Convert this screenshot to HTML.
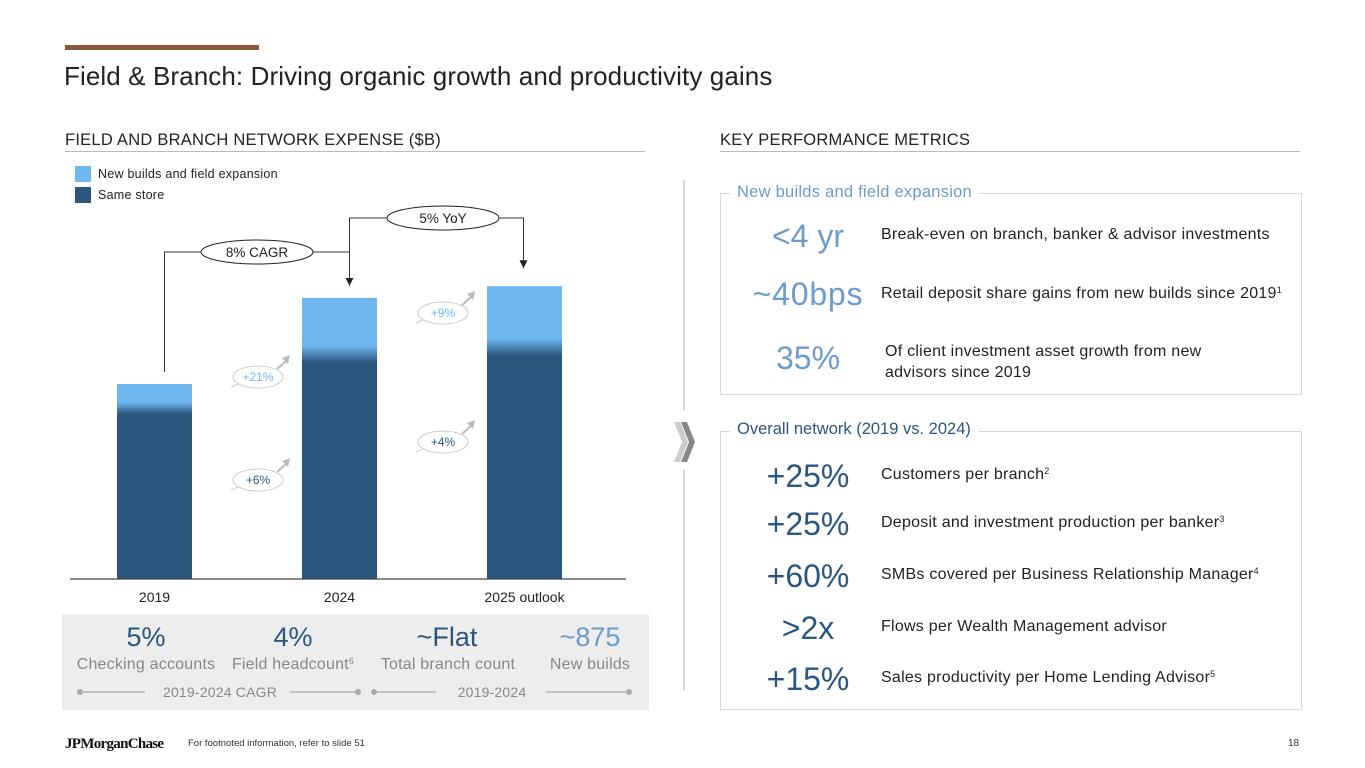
<!DOCTYPE html>
<html><head><meta charset="utf-8">
<style>
*{margin:0;padding:0;box-sizing:border-box}
body{width:1365px;height:768px;background:#fff;position:relative;overflow:hidden;font-family:"Liberation Sans",sans-serif;color:#222}
.a{position:absolute;white-space:nowrap}
.big{position:absolute;width:140px;text-align:center;font-size:32px;line-height:36px;left:738px}
.lt{color:#6b9ccb}.dk{color:#2b5680}
.desc{position:absolute;left:881px;font-size:16px;color:#222;letter-spacing:0.25px}
sup{font-size:9px;vertical-align:top;line-height:10px}
.box{position:absolute;border:1px solid #d8d8d8}
.leg{position:absolute;width:16px;height:16px}
.kl{position:absolute;text-align:center;font-size:16px;color:#888;letter-spacing:0.2px;white-space:nowrap}
</style></head><body>
<div class="a" style="left:65px;top:45px;width:194px;height:5px;background:#8b5a3c"></div>
<div class="a" style="left:64px;top:61px;font-size:26px;color:#222;letter-spacing:0.1px">Field &amp; Branch: Driving organic growth and productivity gains</div>
<div class="a" style="left:65px;top:131px;font-size:16.5px;color:#222;letter-spacing:0.25px">FIELD AND BRANCH NETWORK EXPENSE ($B)</div>
<div class="a" style="left:65px;top:151px;width:580px;height:1px;background:#bbb"></div>
<div class="a" style="left:720px;top:131px;font-size:16.5px;color:#222;letter-spacing:0.25px">KEY PERFORMANCE METRICS</div>
<div class="a" style="left:720px;top:151px;width:580px;height:1px;background:#bbb"></div>

<div class="leg" style="left:75px;top:166px;background:#6fb8ef"></div>
<div class="a" style="left:98px;top:167px;font-size:12.5px;letter-spacing:0.25px">New builds and field expansion</div>
<div class="leg" style="left:75px;top:187px;background:#2b567e"></div>
<div class="a" style="left:98px;top:188px;font-size:12.5px;letter-spacing:0.25px">Same store</div>

<svg class="a" style="left:0;top:0" width="660" height="610" id="chart">
<defs>
<marker id="ar" viewBox="0 0 10 10" refX="10" refY="5" markerWidth="8" markerHeight="8" markerUnits="userSpaceOnUse" orient="auto"><path d="M0,0L10,5L0,10z" fill="#222"/></marker>
</defs>
</svg>

<div class="a" style="left:62px;top:614px;width:587px;height:96px;background:#ededed"></div>
<div class="a" style="left:86px;top:622px;width:120px;text-align:center;font-size:27px;color:#2b5680">5%</div>
<div class="kl" style="left:66px;top:656px;width:160px">Checking accounts</div>
<div class="a" style="left:233px;top:622px;width:120px;text-align:center;font-size:27px;color:#2b5680">4%</div>
<div class="kl" style="left:218px;top:656px;width:150px">Field headcount<sup>6</sup></div>
<div class="a" style="left:387px;top:622px;width:120px;text-align:center;font-size:27px;color:#2b5680">~Flat</div>
<div class="kl" style="left:368px;top:656px;width:160px">Total branch count</div>
<div class="a" style="left:530px;top:622px;width:120px;text-align:center;font-size:27px;color:#6b9ccb">~875</div>
<div class="kl" style="left:530px;top:656px;width:120px">New builds</div>
<svg class="a" style="left:0;top:680px" width="660" height="30">
<g stroke="#aaa" stroke-width="1.2"><line x1="80" y1="12" x2="145" y2="12"/><line x1="290" y1="12" x2="358" y2="12"/><line x1="374" y1="12" x2="436" y2="12"/><line x1="546" y1="12" x2="629" y2="12"/></g>
<g fill="#aaa"><circle cx="80" cy="12" r="3"/><circle cx="358" cy="12" r="3"/><circle cx="374" cy="12" r="3"/><circle cx="629" cy="12" r="3"/></g>
<text x="220" y="17" text-anchor="middle" font-size="14" fill="#888" font-family="Liberation Sans" letter-spacing="0.2">2019-2024 CAGR</text>
<text x="492" y="17" text-anchor="middle" font-size="14" fill="#888" font-family="Liberation Sans" letter-spacing="0.2">2019-2024</text>
</svg>

<svg class="a" style="left:668px;top:180px" width="40" height="510">
<line x1="16" y1="0" x2="16" y2="230" stroke="#ccc" stroke-width="1.5"/>
<line x1="16" y1="290" x2="16" y2="510" stroke="#ccc" stroke-width="1.5"/>
<path d="M6,242 L12,242 L20,262 L12,282 L6,282 L14,262z" fill="#ccc"/>
<path d="M13,242 L19,242 L27,262 L19,282 L13,282 L21,262z" fill="#888"/>
</svg>

<div class="box" style="left:720px;top:193px;width:582px;height:202px"></div>
<div class="a" style="left:730px;top:183px;padding:0 7px;background:#fff;font-size:16.5px;color:#6b9ccb;letter-spacing:0.25px">New builds and field expansion</div>
<div class="big lt" style="top:218px">&lt;4 yr</div>
<div class="desc" style="top:226px">Break-even on branch, banker &amp; advisor investments</div>
<div class="big lt" style="top:276px;letter-spacing:0.8px">~40bps</div>
<div class="desc" style="top:285px">Retail deposit share gains from new builds since 2019<sup>1</sup></div>
<div class="big lt" style="top:340px">35%</div>
<div class="desc" style="top:341px;left:885px;line-height:21px">Of client investment asset growth from new<br>advisors since 2019</div>

<div class="box" style="left:720px;top:431px;width:582px;height:279px"></div>
<div class="a" style="left:730px;top:420px;padding:0 7px;background:#fff;font-size:16.5px;color:#2b5680">Overall network (2019 vs. 2024)</div>
<div class="big dk" style="top:458px">+25%</div>
<div class="desc" style="top:466px">Customers per branch<sup>2</sup></div>
<div class="big dk" style="top:506px">+25%</div>
<div class="desc" style="top:514px">Deposit and investment production per banker<sup>3</sup></div>
<div class="big dk" style="top:558px">+60%</div>
<div class="desc" style="top:566px">SMBs covered per Business Relationship Manager<sup>4</sup></div>
<div class="big dk" style="top:610px">&gt;2x</div>
<div class="desc" style="top:618px">Flows per Wealth Management advisor</div>
<div class="big dk" style="top:661px">+15%</div>
<div class="desc" style="top:669px">Sales productivity per Home Lending Advisor<sup>5</sup></div>

<div class="a" style="left:65px;top:736px;font-family:'Liberation Serif',serif;font-size:15px;font-weight:bold;letter-spacing:-0.7px;color:#111">JPMorganChase</div>
<div class="a" style="left:188px;top:738px;font-size:9.5px;color:#333">For footnoted information, refer to slide 51</div>
<div class="a" style="left:1288px;top:738px;font-size:10px;color:#333">18</div>

<script>
const categories=["2019","2024","2025 outlook"];
const sameStore=[5.63,7.40,7.63];
const newBuilds=[0.87,1.97,2.13];
const sameGrowth=["+6%","+4%"];
const newGrowth=["+21%","+9%"];
const svg=document.getElementById('chart');
const NS='http://www.w3.org/2000/svg';
const baseY=579, pxPer=30, barW=75, x0=117, step=185;
function yv(v){return baseY-v*pxPer;}
function xc(i){return x0+i*step;}
function mk(t,a){const e=document.createElementNS(NS,t);for(const k in a)e.setAttribute(k,a[k]);svg.appendChild(e);return e;}
const defs=svg.querySelector('defs');
categories.forEach((c,i)=>{
  const tot=sameStore[i]+newBuilds[i];
  const top=yv(tot), h=baseY-top;
  const split=(yv(sameStore[i])-top)/h;
  const g=document.createElementNS(NS,'linearGradient');
  g.setAttribute('id','g'+i);g.setAttribute('x1','0');g.setAttribute('y1','0');g.setAttribute('x2','0');g.setAttribute('y2','1');
  [[0,'#6fb8ef'],[Math.max(0,split-0.04),'#6fb8ef'],[split+0.02,'#2b567e'],[1,'#2b567e']].forEach(s=>{const st=document.createElementNS(NS,'stop');st.setAttribute('offset',s[0]);st.setAttribute('stop-color',s[1]);g.appendChild(st);});
  defs.appendChild(g);
  const r=mk('rect',{x:xc(i),y:top,width:barW,height:h,fill:'url(#g'+i+')'});
  
  
  const t=mk('text',{x:xc(i)+barW/2,y:602,'text-anchor':'middle','font-size':14,fill:'#222','font-family':'Liberation Sans'});
  t.textContent=c;
  
  
});
mk('line',{x1:70,y1:baseY,x2:626,y2:baseY,stroke:'#444','stroke-width':1.2});
function bubble(cx,cy,label,col,name){
  const g=mk('g',{});
  
  
  const e=document.createElementNS(NS,'ellipse');
  e.setAttribute('cx',cx);e.setAttribute('cy',cy);e.setAttribute('rx',25);e.setAttribute('ry',11);e.setAttribute('fill','#fff');e.setAttribute('stroke','#ccc');g.appendChild(e);
  const a=document.createElementNS(NS,'path');a.setAttribute('d',`M${cx+19} ${cy-8} L${cx+28} ${cy-16}`);a.setAttribute('stroke','#bbb');a.setAttribute('stroke-width',2);g.appendChild(a);
  const h=document.createElementNS(NS,'path');h.setAttribute('d',`M${cx+24} ${cy-19} L${cx+32} ${cy-22} L${cx+30} ${cy-13}z`);h.setAttribute('fill','#bbb');g.appendChild(h);
  const tl=document.createElementNS(NS,'path');tl.setAttribute('d',`M${cx-20} ${cy+7} L${cx-27} ${cy+10}`);tl.setAttribute('stroke','#ccc');g.appendChild(tl);
  const t=document.createElementNS(NS,'text');t.setAttribute('x',cx);t.setAttribute('y',cy+4);t.setAttribute('text-anchor','middle');t.setAttribute('font-size',12);t.setAttribute('fill',col);t.setAttribute('font-family','Liberation Sans');t.textContent=label;g.appendChild(t);
}
const sameBubbleY=[480,442], newBubbleY=[377,313];
for(let i=0;i<2;i++){
  const cx=(xc(i)+barW+xc(i+1))/2+11;
  bubble(cx,sameBubbleY[i],sameGrowth[i],'#2b5680','same-store-growth-'+i);
  bubble(cx,newBubbleY[i],newGrowth[i],'#6fb8ef','new-builds-growth-'+i);
}
const c1x=xc(0)+barW/2+10, c2x=xc(1)+barW/2+10, c3x=xc(2)+barW/2-1;
mk('path',{d:`M${c1x} ${yv(sameStore[0]+newBuilds[0])-12} V252 H${c2x} V${yv(sameStore[1]+newBuilds[1])-12}`,fill:'none',stroke:'#333','stroke-width':1,'marker-end':'url(#ar)'});
mk('path',{d:`M${c2x} 252 V218 H${c3x} V${yv(sameStore[2]+newBuilds[2])-18}`,fill:'none',stroke:'#333','stroke-width':1,'marker-end':'url(#ar)'});
function oval(cx,cy,label,name){
  const e=mk('ellipse',{cx:cx,cy:cy,rx:56,ry:12,fill:'#fff',stroke:'#222','stroke-width':1});
  
  
  const t=mk('text',{x:cx,y:cy+5,'text-anchor':'middle','font-size':13.5,fill:'#222','font-family':'Liberation Sans'});
  t.textContent=label;
}
oval(257,252,'8% CAGR','cagr-label');
oval(443,218,'5% YoY','yoy-label');
</script>
</body></html>
